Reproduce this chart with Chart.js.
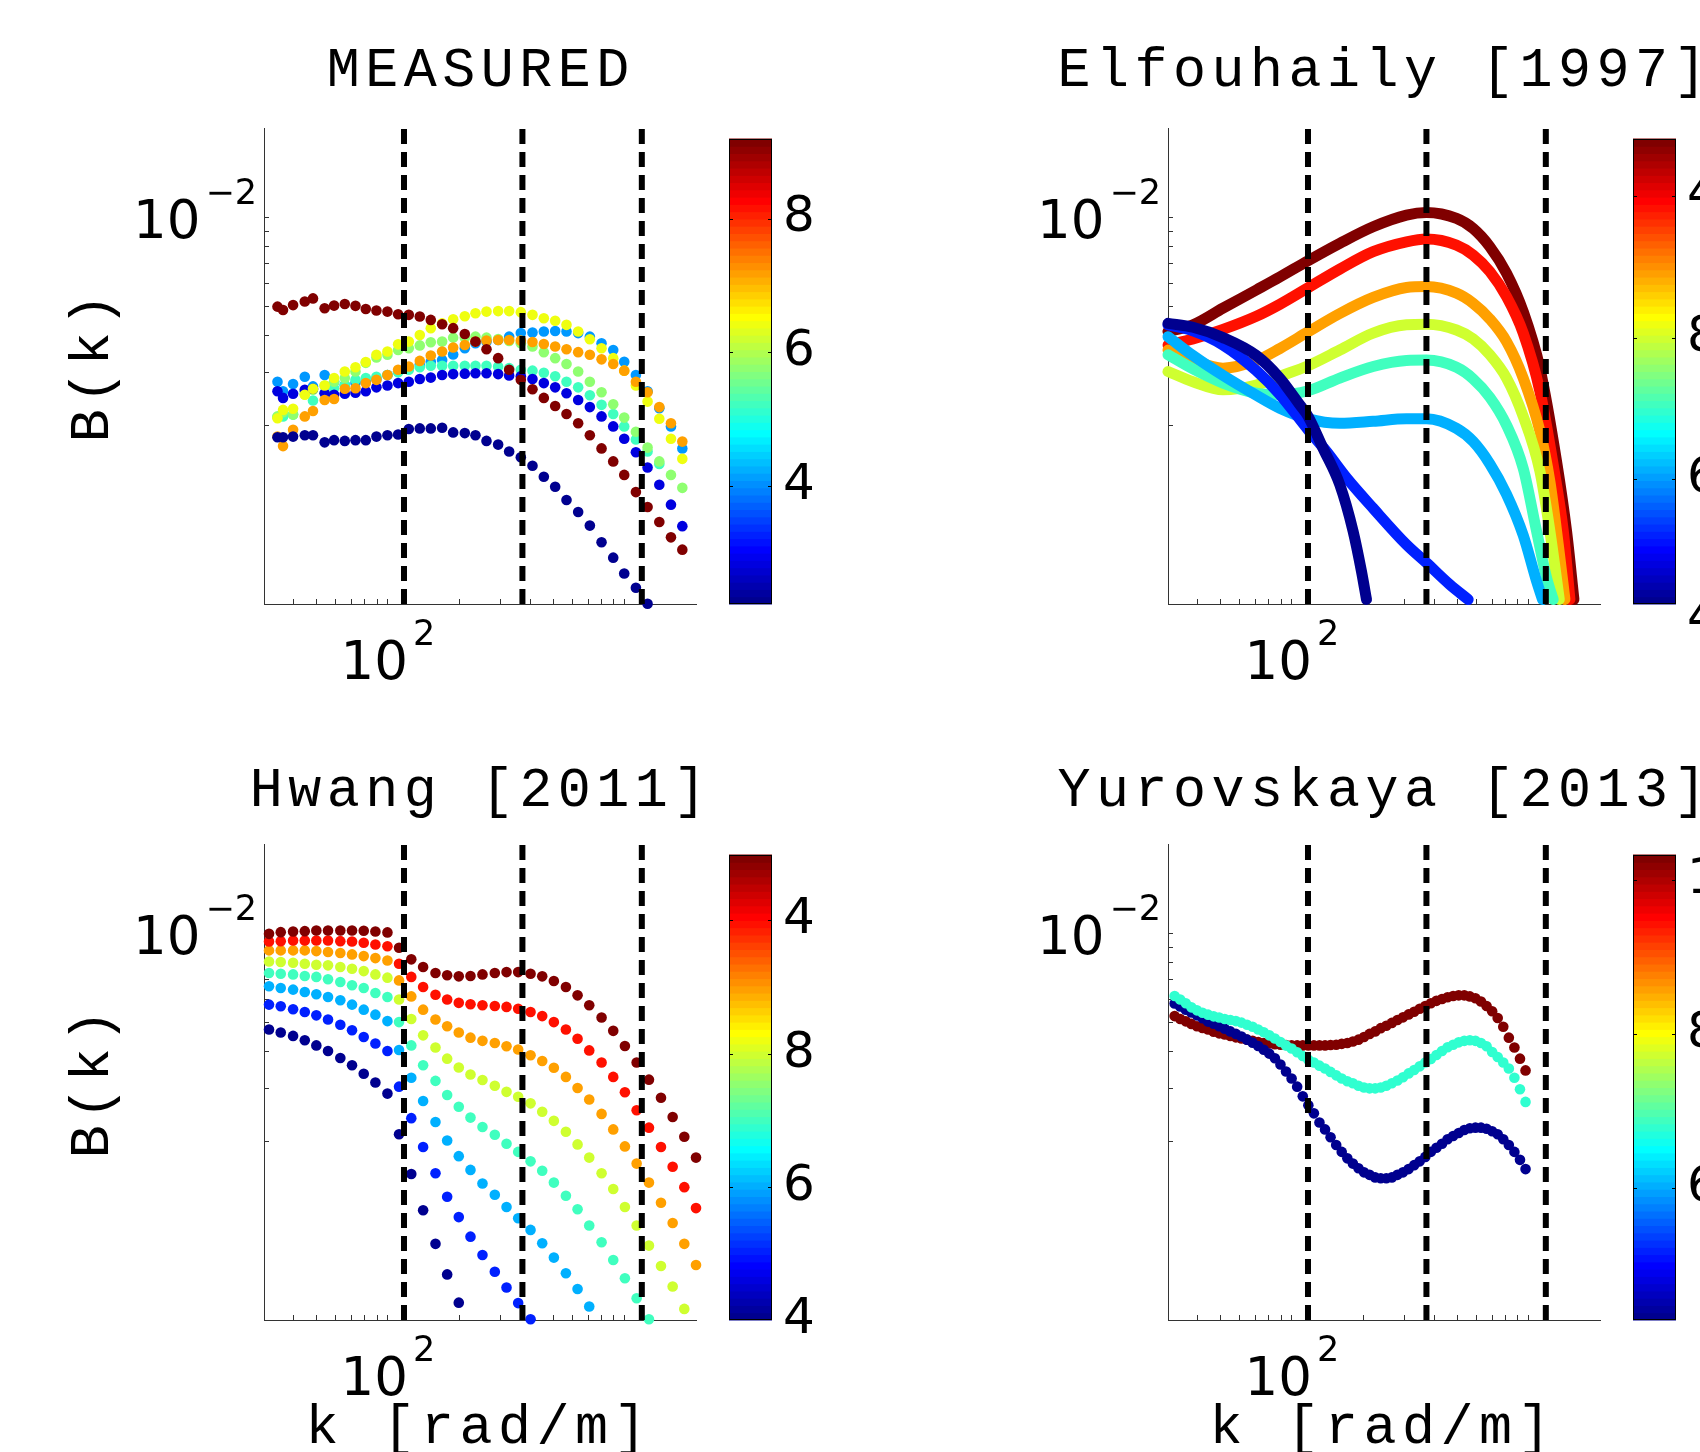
<!DOCTYPE html>
<html>
<head>
<meta charset="utf-8">
<script src="https://cdn.jsdelivr.net/npm/chart.js@4.4.1/dist/chart.umd.min.js"></script>
<style>
  html, body { margin: 0; padding: 0; background: #fff; }
  body { width: 1700px; height: 1452px; overflow: hidden; position: relative; }
  canvas { position: absolute; }
</style>
</head>
<body>
<canvas id="p1"></canvas>
<canvas id="p2"></canvas>
<canvas id="p3"></canvas>
<canvas id="p4"></canvas>
<canvas id="c1"></canvas>
<canvas id="c2"></canvas>
<canvas id="c3"></canvas>
<canvas id="c4"></canvas>
<script>
// ─── Axes (shared by the four panels) ────────────────────────────────────────
const K_MIN = 30, K_MAX = 2000;          // k [rad/m]
const B_MIN = 5e-4, B_MAX = 2e-2;        // B(k)
const K_TICKS = [40, 50, 60, 70, 80, 90, 100, 200, 300, 400, 500, 600, 700, 800, 900, 1000];
const B_TICKS = [2e-3, 3e-3, 4e-3, 5e-3, 6e-3, 7e-3, 8e-3, 9e-3, 1e-2];
const K_LABEL = 100, K_LABEL_EXP = "2";
const B_LABEL = 1e-2, B_LABEL_EXP = "\u22122";
const K_DASHED = [117, 370, 1181];       // vertical dashed markers

// ─── MEASURED ────────────────────────────────────────────────────────────────
const K_MEAS = [34.2, 36.1, 39.8, 44.6, 48.3, 54.1, 59.3, 65.8, 73.0, 80.7, 89.5, 99.6, 110.5, 122.6, 136.4, 151.8, 169.5, 188.7, 211.3, 234.4, 260.9, 292.2, 325.2, 364.2, 408.0, 455.6, 508.7, 567.9, 636.1, 712.6, 798.4, 894.4, 995.4, 1115, 1249, 1400, 1568, 1751];
const MEAS_NAVY = [1.82e-3, 1.82e-3, 1.83e-3, 1.85e-3, 1.85e-3, 1.75e-3, 1.78e-3, 1.77e-3, 1.78e-3, 1.78e-3, 1.83e-3, 1.85e-3, 1.86e-3, 1.94e-3, 1.95e-3, 1.95e-3, 1.96e-3, 1.89e-3, 1.88e-3, 1.85e-3, 1.77e-3, 1.72e-3, 1.63e-3, 1.56e-3, 1.46e-3, 1.34e-3, 1.24e-3, 1.12e-3, 1.02e-3, 9.18e-4, 8.07e-4, 7.16e-4, 6.33e-4, 5.67e-4, 5.01e-4];
const MEAS_BLUE = [2.60e-3, 2.47e-3, 2.55e-3, 2.63e-3, 2.65e-3, 2.56e-3, 2.53e-3, 2.55e-3, 2.57e-3, 2.60e-3, 2.68e-3, 2.72e-3, 2.77e-3, 2.80e-3, 2.86e-3, 2.89e-3, 2.95e-3, 2.97e-3, 2.98e-3, 2.99e-3, 2.99e-3, 2.97e-3, 2.94e-3, 2.92e-3, 2.86e-3, 2.77e-3, 2.68e-3, 2.56e-3, 2.43e-3, 2.30e-3, 2.14e-3, 1.98e-3, 1.80e-3, 1.62e-3, 1.44e-3, 1.26e-3, 1.08e-3, 9.14e-4];
const MEAS_LBLUE = [2.80e-3, 2.60e-3, 2.75e-3, 2.91e-3, 2.70e-3, 2.95e-3, 2.80e-3, 2.73e-3, 2.77e-3, 2.80e-3, 2.86e-3, 2.95e-3, 3.03e-3, 3.11e-3, 3.19e-3, 3.27e-3, 3.31e-3, 3.46e-3, 3.63e-3, 3.77e-3, 3.82e-3, 3.87e-3, 3.97e-3, 4.08e-3, 4.10e-3, 4.13e-3, 4.15e-3, 4.13e-3, 4.08e-3, 3.97e-3, 3.77e-3, 3.58e-3, 3.27e-3, 2.95e-3, 2.60e-3, 2.28e-3, 1.98e-3, 1.67e-3];
const MEAS_TEAL = [2.13e-3, 2.14e-3, 2.17e-3, 2.60e-3, 2.42e-3, 2.56e-3, 2.66e-3, 2.73e-3, 2.84e-3, 2.88e-3, 2.91e-3, 2.95e-3, 3.01e-3, 3.07e-3, 3.13e-3, 3.17e-3, 3.17e-3, 3.17e-3, 3.17e-3, 3.17e-3, 3.17e-3, 3.15e-3, 3.11e-3, 3.07e-3, 3.05e-3, 3.00e-3, 2.92e-3, 2.80e-3, 2.68e-3, 2.52e-3, 2.34e-3, 2.18e-3, 1.98e-3, 1.79e-3, 1.63e-3, 1.48e-3];
const MEAS_GREEN = [2.14e-3, 2.21e-3, 2.17e-3, 2.54e-3, 2.63e-3, 2.72e-3, 2.80e-3, 2.88e-3, 3.03e-3, 3.24e-3, 3.38e-3, 3.45e-3, 3.58e-3, 3.63e-3, 3.71e-3, 3.80e-3, 3.82e-3, 3.94e-3, 3.94e-3, 3.97e-3, 3.94e-3, 3.90e-3, 3.84e-3, 3.77e-3, 3.68e-3, 3.52e-3, 3.36e-3, 3.21e-3, 3.03e-3, 2.80e-3, 2.58e-3, 2.35e-3, 2.12e-3, 1.90e-3, 1.68e-3, 1.51e-3, 1.36e-3, 1.23e-3];
const MEAS_YELLOW = [2.11e-3, 2.25e-3, 2.27e-3, 2.53e-3, 2.65e-3, 2.72e-3, 2.88e-3, 3.03e-3, 3.13e-3, 3.26e-3, 3.45e-3, 3.54e-3, 3.74e-3, 3.82e-3, 4.02e-3, 4.24e-3, 4.40e-3, 4.54e-3, 4.65e-3, 4.76e-3, 4.82e-3, 4.84e-3, 4.84e-3, 4.80e-3, 4.70e-3, 4.58e-3, 4.49e-3, 4.35e-3, 4.13e-3, 3.89e-3, 3.63e-3, 3.36e-3, 3.05e-3, 2.72e-3, 2.40e-3, 2.10e-3, 1.80e-3, 1.54e-3];
const MEAS_ORANGE = [1.83e-3, 1.70e-3, 1.93e-3, 2.14e-3, 2.23e-3, 2.43e-3, 2.45e-3, 2.65e-3, 2.66e-3, 2.77e-3, 2.84e-3, 2.95e-3, 3.07e-3, 3.15e-3, 3.29e-3, 3.43e-3, 3.54e-3, 3.65e-3, 3.72e-3, 3.82e-3, 3.85e-3, 3.87e-3, 3.87e-3, 3.85e-3, 3.81e-3, 3.75e-3, 3.68e-3, 3.60e-3, 3.52e-3, 3.45e-3, 3.33e-3, 3.21e-3, 3.05e-3, 2.80e-3, 2.58e-3, 2.30e-3, 2.03e-3, 1.76e-3];
const MEAS_MAROON = [5.01e-3, 4.88e-3, 5.07e-3, 5.21e-3, 5.34e-3, 4.95e-3, 5.05e-3, 5.11e-3, 5.04e-3, 4.92e-3, 4.86e-3, 4.82e-3, 4.72e-3, 4.70e-3, 4.64e-3, 4.52e-3, 4.37e-3, 4.24e-3, 4.05e-3, 3.82e-3, 3.60e-3, 3.36e-3, 3.07e-3, 2.84e-3, 2.64e-3, 2.47e-3, 2.32e-3, 2.18e-3, 2.03e-3, 1.85e-3, 1.67e-3, 1.51e-3, 1.36e-3, 1.19e-3, 1.06e-3, 9.44e-4, 8.38e-4, 7.62e-4];

// ─── Elfouhaily [1997] ───────────────────────────────────────────────────────
const ELF_MAROON_K = [30.0, 38.25, 51.2, 70.8, 88.9, 117.1, 159.4, 220.4, 304.8, 370.2, 495.7, 583.0, 685.6, 806.2, 948.2, 1115, 1311, 1445, 1552];
const ELF_MAROON_B = [4.13e-3, 4.35e-3, 4.95e-3, 5.70e-3, 6.30e-3, 7.15e-3, 8.18e-3, 9.30e-3, 1.018e-2, 1.039e-2, 9.92e-3, 9.18e-3, 7.97e-3, 6.49e-3, 4.82e-3, 3.11e-3, 1.51e-3, 8.79e-4, 5.18e-4];
const ELF_RED_K = [30.0, 38.25, 51.2, 70.8, 88.9, 117.1, 159.4, 220.4, 304.8, 370.2, 495.7, 583.0, 685.6, 806.2, 948.2, 1115, 1269, 1400, 1493];
const ELF_RED_B = [3.72e-3, 3.90e-3, 4.20e-3, 4.65e-3, 5.10e-3, 5.80e-3, 6.70e-3, 7.67e-3, 8.28e-3, 8.46e-3, 8.07e-3, 7.47e-3, 6.57e-3, 5.41e-3, 4.08e-3, 2.60e-3, 1.47e-3, 8.79e-4, 5.18e-4];
const ELF_ORANGE_K = [30.0, 38.25, 51.2, 70.8, 88.9, 117.1, 159.4, 220.4, 304.8, 370.2, 495.7, 583.0, 685.6, 806.2, 948.2, 1115, 1229, 1333, 1422];
const ELF_ORANGE_B = [3.58e-3, 3.31e-3, 3.11e-3, 3.30e-3, 3.62e-3, 4.12e-3, 4.75e-3, 5.38e-3, 5.81e-3, 5.85e-3, 5.56e-3, 5.14e-3, 4.55e-3, 3.82e-3, 2.88e-3, 1.91e-3, 1.29e-3, 7.92e-4, 5.18e-4];
const ELF_YELLOW_K = [30.0, 38.25, 51.2, 70.8, 88.9, 117.1, 159.4, 220.4, 304.8, 370.2, 495.7, 583.0, 685.6, 806.2, 948.2, 1115, 1229, 1346];
const ELF_YELLOW_B = [3.03e-3, 2.80e-3, 2.63e-3, 2.73e-3, 2.92e-3, 3.17e-3, 3.58e-3, 4.08e-3, 4.35e-3, 4.37e-3, 4.18e-3, 3.90e-3, 3.45e-3, 2.88e-3, 2.14e-3, 1.40e-3, 8.79e-4, 5.18e-4];
const ELF_TEAL_K = [30.0, 38.25, 51.2, 70.8, 88.9, 117.1, 159.4, 220.4, 304.8, 370.2, 495.7, 583.0, 685.6, 806.2, 948.2, 1079.5, 1190, 1269];
const ELF_TEAL_B = [3.45e-3, 3.09e-3, 2.77e-3, 2.56e-3, 2.53e-3, 2.61e-3, 2.88e-3, 3.15e-3, 3.30e-3, 3.31e-3, 3.13e-3, 2.86e-3, 2.48e-3, 2.00e-3, 1.43e-3, 8.79e-4, 6.12e-4, 5.18e-4];
const ELF_LBLUE_K = [30.0, 38.25, 51.2, 70.8, 88.9, 117.1, 159.4, 220.4, 304.8, 370.2, 495.7, 583.0, 685.6, 806.2, 948.2, 1079.5, 1144];
const ELF_LBLUE_B = [3.97e-3, 3.43e-3, 2.94e-3, 2.52e-3, 2.28e-3, 2.10e-3, 2.03e-3, 2.06e-3, 2.10e-3, 2.10e-3, 1.95e-3, 1.76e-3, 1.48e-3, 1.17e-3, 8.52e-4, 5.97e-4, 5.18e-4];
const ELF_BLUE_K = [30.0, 38.25, 51.2, 70.8, 88.9, 117.1, 140.0, 170.1, 220.4, 304.8, 370.2, 464.6, 555.2];
const ELF_BLUE_B = [4.35e-3, 4.15e-3, 3.72e-3, 3.05e-3, 2.54e-3, 1.93e-3, 1.63e-3, 1.33e-3, 1.05e-3, 7.92e-4, 6.88e-4, 5.81e-4, 5.18e-4];
const ELF_NAVY_K = [30.0, 38.25, 51.2, 70.8, 88.9, 108.0, 117.1, 135.5, 159.4, 181.4, 196.7, 206.6];
const ELF_NAVY_B = [4.40e-3, 4.27e-3, 3.94e-3, 3.43e-3, 2.88e-3, 2.34e-3, 2.14e-3, 1.67e-3, 1.26e-3, 8.79e-4, 6.45e-4, 5.18e-4];

// ─── Hwang [2011] ────────────────────────────────────────────────────────────
const K_HWANG = [31.5, 35.3, 39.8, 44.6, 49.9, 55.9, 63.0, 70.6, 79.1, 88.6, 99.6, 111.5, 125.6, 140.9, 158.9, 178.0, 199.3, 223.3, 250.9, 282.9, 317.0, 355.0, 400.4, 448.5, 502.3, 564.6, 632.4, 708.4, 798.7, 894.6, 1002, 1123, 1266, 1423, 1594, 1785, 2000];
const HW_MAROON = [9.97e-3, 1.010e-2, 1.015e-2, 1.018e-2, 1.023e-2, 1.023e-2, 1.023e-2, 1.023e-2, 1.021e-2, 1.015e-2, 1.008e-2, 8.95e-3, 8.18e-3, 7.71e-3, 7.36e-3, 7.23e-3, 7.17e-3, 7.19e-3, 7.28e-3, 7.36e-3, 7.41e-3, 7.41e-3, 7.32e-3, 7.17e-3, 6.92e-3, 6.60e-3, 6.19e-3, 5.73e-3, 5.21e-3, 4.70e-3, 4.18e-3, 3.68e-3, 3.22e-3, 2.80e-3, 2.41e-3, 2.07e-3, 1.76e-3];
const HW_RED = [9.40e-3, 9.42e-3, 9.47e-3, 9.47e-3, 9.47e-3, 9.47e-3, 9.42e-3, 9.40e-3, 9.30e-3, 9.18e-3, 9.06e-3, 7.91e-3, 7.14e-3, 6.60e-3, 6.22e-3, 5.99e-3, 5.84e-3, 5.78e-3, 5.73e-3, 5.70e-3, 5.66e-3, 5.58e-3, 5.44e-3, 5.27e-3, 5.03e-3, 4.75e-3, 4.42e-3, 4.04e-3, 3.68e-3, 3.29e-3, 2.92e-3, 2.54e-3, 2.22e-3, 1.91e-3, 1.64e-3, 1.40e-3, 1.19e-3];
const HW_ORANGE = [8.77e-3, 8.77e-3, 8.77e-3, 8.77e-3, 8.72e-3, 8.66e-3, 8.59e-3, 8.50e-3, 8.39e-3, 8.26e-3, 8.11e-3, 6.95e-3, 6.14e-3, 5.54e-3, 5.13e-3, 4.87e-3, 4.64e-3, 4.46e-3, 4.35e-3, 4.28e-3, 4.17e-3, 4.07e-3, 3.89e-3, 3.72e-3, 3.53e-3, 3.29e-3, 3.02e-3, 2.76e-3, 2.47e-3, 2.19e-3, 1.92e-3, 1.68e-3, 1.45e-3, 1.24e-3, 1.06e-3, 9.02e-4, 7.66e-4];
const HW_YGREEN = [8.05e-3, 8.01e-3, 7.97e-3, 7.91e-3, 7.85e-3, 7.81e-3, 7.71e-3, 7.61e-3, 7.47e-3, 7.28e-3, 7.10e-3, 5.99e-3, 5.15e-3, 4.54e-3, 4.13e-3, 3.79e-3, 3.54e-3, 3.35e-3, 3.21e-3, 3.07e-3, 2.93e-3, 2.82e-3, 2.68e-3, 2.51e-3, 2.34e-3, 2.15e-3, 1.95e-3, 1.76e-3, 1.56e-3, 1.38e-3, 1.20e-3, 1.04e-3, 8.90e-4, 7.60e-4, 6.48e-4, 5.45e-4];
const HW_TEAL = [7.36e-3, 7.32e-3, 7.28e-3, 7.19e-3, 7.14e-3, 7.01e-3, 6.86e-3, 6.69e-3, 6.55e-3, 6.30e-3, 6.11e-3, 5.03e-3, 4.20e-3, 3.60e-3, 3.19e-3, 2.86e-3, 2.61e-3, 2.40e-3, 2.23e-3, 2.10e-3, 1.96e-3, 1.84e-3, 1.71e-3, 1.59e-3, 1.45e-3, 1.31e-3, 1.18e-3, 1.04e-3, 9.13e-4, 7.96e-4, 6.91e-4, 5.92e-4, 5.03e-4];
const HW_LBLUE = [6.64e-3, 6.55e-3, 6.47e-3, 6.35e-3, 6.24e-3, 6.11e-3, 5.96e-3, 5.76e-3, 5.54e-3, 5.33e-3, 5.07e-3, 4.05e-3, 3.27e-3, 2.73e-3, 2.32e-3, 2.01e-3, 1.78e-3, 1.60e-3, 1.44e-3, 1.32e-3, 1.20e-3, 1.10e-3, 1.005e-3, 9.06e-4, 8.11e-4, 7.18e-4, 6.36e-4, 5.55e-4];
const HW_BLUE = [5.76e-3, 5.69e-3, 5.56e-3, 5.44e-3, 5.30e-3, 5.13e-3, 4.93e-3, 4.72e-3, 4.48e-3, 4.26e-3, 4.02e-3, 3.05e-3, 2.39e-3, 1.91e-3, 1.56e-3, 1.30e-3, 1.11e-3, 9.54e-4, 8.27e-4, 7.27e-4, 6.43e-4, 5.70e-4, 5.03e-4];
const HW_NAVY = [4.75e-3, 4.64e-3, 4.52e-3, 4.37e-3, 4.20e-3, 4.02e-3, 3.81e-3, 3.60e-3, 3.37e-3, 3.15e-3, 2.89e-3, 2.11e-3, 1.55e-3, 1.17e-3, 9.02e-4, 7.12e-4, 5.72e-4];

// ─── Yurovskaya [2013] ───────────────────────────────────────────────────────
const K_YUR = [32.0, 33.78, 35.66, 37.64, 39.74, 41.95, 44.28, 46.74, 49.34, 52.09, 54.99, 58.05, 61.28, 64.69, 68.29, 72.09, 76.10, 80.33, 84.80, 89.52, 94.50, 99.76, 105.3, 111.2, 117.4, 123.9, 130.8, 138.1, 145.7, 153.9, 162.4, 171.5, 181.0, 191.1, 201.7, 212.9, 224.8, 237.3, 250.5, 264.4, 279.1, 294.7, 311.1, 328.4, 346.6, 365.9, 386.3, 407.8, 430.5, 454.4, 479.7, 506.4, 534.6, 564.3, 595.7, 628.9, 663.9, 700.8, 739.8, 781.0, 824.4, 870.3, 918.7, 969.8];
const YUR_MAROON = [5.27e-3, 5.15e-3, 5.06e-3, 4.96e-3, 4.87e-3, 4.81e-3, 4.75e-3, 4.67e-3, 4.61e-3, 4.57e-3, 4.52e-3, 4.47e-3, 4.43e-3, 4.39e-3, 4.35e-3, 4.31e-3, 4.28e-3, 4.26e-3, 4.24e-3, 4.22e-3, 4.21e-3, 4.20e-3, 4.20e-3, 4.20e-3, 4.20e-3, 4.20e-3, 4.20e-3, 4.20e-3, 4.21e-3, 4.22e-3, 4.25e-3, 4.28e-3, 4.33e-3, 4.39e-3, 4.48e-3, 4.59e-3, 4.68e-3, 4.80e-3, 4.89e-3, 5.00e-3, 5.11e-3, 5.22e-3, 5.34e-3, 5.45e-3, 5.58e-3, 5.70e-3, 5.82e-3, 5.93e-3, 6.02e-3, 6.10e-3, 6.16e-3, 6.19e-3, 6.19e-3, 6.14e-3, 6.05e-3, 5.90e-3, 5.70e-3, 5.47e-3, 5.19e-3, 4.85e-3, 4.46e-3, 4.13e-3, 3.79e-3, 3.46e-3];
const YUR_TEAL = [6.16e-3, 5.99e-3, 5.82e-3, 5.64e-3, 5.51e-3, 5.41e-3, 5.33e-3, 5.26e-3, 5.21e-3, 5.15e-3, 5.11e-3, 5.07e-3, 5.01e-3, 4.93e-3, 4.85e-3, 4.75e-3, 4.65e-3, 4.54e-3, 4.43e-3, 4.31e-3, 4.20e-3, 4.10e-3, 3.98e-3, 3.87e-3, 3.76e-3, 3.68e-3, 3.59e-3, 3.51e-3, 3.42e-3, 3.33e-3, 3.25e-3, 3.18e-3, 3.13e-3, 3.07e-3, 3.03e-3, 3.01e-3, 3.01e-3, 3.03e-3, 3.07e-3, 3.13e-3, 3.20e-3, 3.28e-3, 3.38e-3, 3.47e-3, 3.57e-3, 3.68e-3, 3.78e-3, 3.90e-3, 4.02e-3, 4.14e-3, 4.22e-3, 4.30e-3, 4.35e-3, 4.37e-3, 4.35e-3, 4.28e-3, 4.17e-3, 3.99e-3, 3.84e-3, 3.68e-3, 3.51e-3, 3.27e-3, 2.99e-3, 2.71e-3];
const YUR_NAVY = [5.81e-3, 5.68e-3, 5.54e-3, 5.42e-3, 5.30e-3, 5.18e-3, 5.05e-3, 4.97e-3, 4.87e-3, 4.78e-3, 4.68e-3, 4.59e-3, 4.50e-3, 4.39e-3, 4.29e-3, 4.18e-3, 4.06e-3, 3.94e-3, 3.80e-3, 3.62e-3, 3.43e-3, 3.25e-3, 3.05e-3, 2.83e-3, 2.64e-3, 2.48e-3, 2.31e-3, 2.19e-3, 2.06e-3, 1.94e-3, 1.84e-3, 1.75e-3, 1.68e-3, 1.62e-3, 1.57e-3, 1.54e-3, 1.51e-3, 1.50e-3, 1.50e-3, 1.51e-3, 1.54e-3, 1.57e-3, 1.61e-3, 1.66e-3, 1.71e-3, 1.77e-3, 1.84e-3, 1.90e-3, 1.96e-3, 2.03e-3, 2.08e-3, 2.13e-3, 2.18e-3, 2.21e-3, 2.22e-3, 2.22e-3, 2.20e-3, 2.16e-3, 2.11e-3, 2.03e-3, 1.94e-3, 1.84e-3, 1.73e-3, 1.61e-3];

// ─── Colorbars: range, tick values, tick labels ──────────────────────────────
const CB1_RANGE = [2.23, 9.19],  CB1_TICKS = [4, 6, 8],     CB1_LABELS = ["4", "6", "8"];
const CB2_RANGE = [4.23, 10.81], CB2_TICKS = [4, 6, 8, 10], CB2_LABELS = ["4", "6", "8", "4"];
const CB3_RANGE = [4.0, 10.98],  CB3_TICKS = [4, 6, 8, 10], CB3_LABELS = ["4", "6", "8", "4"];
const CB4_RANGE = [4.28, 10.33], CB4_TICKS = [6, 8, 10],    CB4_LABELS = ["6", "8", "10"];

// ─── Styles / layout ─────────────────────────────────────────────────────────
const C = {
    navy: "#00008f", blue: "#0000df", blue2: "#0020ff", lblue: "#0098ff", lblue2: "#00b0ff",
    teal: "#40ffbf", teal2: "#30ffd0", green: "#8fff70", yellow: "#efff10", ygreen: "#cfff30",
    orange: "#ffa000", red: "#ff1000", maroon: "#800000",
};
const AXIS_COLOR = "#333";
const MONO = '55px "Liberation Mono", "Courier New", monospace';
const MONO_SPACING = 5.5;
const TICK_FONT = '53px "DejaVu Sans", sans-serif';
const SUP_FONT = '35px "DejaVu Sans", sans-serif';
const PANEL_W = 820;
const AX_L = 264, AX_T = 128, AX_R = 696, AX_B = 604;
const CB_W = 43, CB_CANVAS_W = 160, CB_PAD_T = 30, CB_PAD_B = 70;

// MATLAB jet(64), row 1..64
function jet64(row) {
    const u = (j) => (j < 1 || j > 47) ? 0 : (j <= 16 ? j / 16 : (j <= 31 ? 1 : (48 - j) / 16));
    const c = [u(row - 24), u(row - 8), u(row + 8)].map((v) => Math.round(v * 255));
    return `rgb(${c[0]},${c[1]},${c[2]})`;
}

function dots(K, B, color) {
    return {
        data: B.map((b, i) => ({ x: K[i], y: b })),
        showLine: false, pointRadius: 5.3, pointHoverRadius: 5.3,
        pointBackgroundColor: color, backgroundColor: color, pointBorderWidth: 0, clip: false,
    };
}

function curve(K, B, color) {
    return {
        data: B.map((b, i) => ({ x: K[i], y: b })),
        showLine: true, borderColor: color, borderWidth: 11, pointRadius: 0,
        cubicInterpolationMode: "monotone", borderCapStyle: "round", borderJoinStyle: "round",
        fill: false, clip: false,
    };
}

function dashedMarkers() {
    return K_DASHED.map((k) => ({
        data: [{ x: k, y: B_MIN }, { x: k, y: B_MAX }],
        showLine: true, borderColor: "#000", borderWidth: 6, borderDash: [15, 8],
        borderCapStyle: "butt", pointRadius: 0, clip: false,
    }));
}

// "10" with a raised exponent
function powWidth(ctx, exp) {
    ctx.font = TICK_FONT;
    const w = ctx.measureText("10").width;
    ctx.font = SUP_FONT;
    return w + 5 + ctx.measureText(exp).width;
}
function drawPow(ctx, exp, x, base) {
    ctx.font = TICK_FONT;
    ctx.fillText("10", x, base);
    const w = ctx.measureText("10").width;
    ctx.font = SUP_FONT;
    ctx.fillText(exp, x + w + 5, base - 34);
}

// monospaced text with extra tracking, centred on x
function monoText(ctx, text, x, y) {
    ctx.font = MONO;
    ctx.letterSpacing = MONO_SPACING + "px";
    ctx.textAlign = "center";
    ctx.fillText(text, x + MONO_SPACING / 2, y);
    ctx.letterSpacing = "0px";
}

const panelText = {
    id: "panelText",
    afterDraw(chart, args, o) {
        const { ctx, chartArea: a, scales } = chart;
        const cx = (a.left + a.right) / 2;
        ctx.save();
        ctx.fillStyle = "#000";
        ctx.textBaseline = "alphabetic";
        monoText(ctx, o.title, cx - 2, o.titleY);
        if (o.xTitle) monoText(ctx, o.xTitle, cx - 4, a.bottom + 123);
        if (o.yTitle) {
            ctx.save();
            ctx.translate(93, (a.top + a.bottom) / 2 + 2);
            ctx.rotate(-Math.PI / 2);
            ctx.textBaseline = "middle";
            monoText(ctx, o.yTitle, 0, 0);
            ctx.restore();
        }
        ctx.textAlign = "left";
        ctx.textBaseline = "alphabetic";
        const px = scales.x.getPixelForValue(K_LABEL);
        drawPow(ctx, K_LABEL_EXP, px - powWidth(ctx, K_LABEL_EXP) / 2, a.bottom + 75);
        const py = scales.y.getPixelForValue(B_LABEL);
        drawPow(ctx, B_LABEL_EXP, a.left - 7 - powWidth(ctx, B_LABEL_EXP), py + 21);
        ctx.restore();
    },
};

function makePanel(id, left, top, height, datasets, text) {
    const cv = document.getElementById(id);
    cv.width = PANEL_W; cv.height = height;
    cv.style.left = left + "px"; cv.style.top = top + "px";
    const axisCommon = {
        type: "logarithmic",
        ticks: { display: false },
        grid: { drawOnChartArea: false, drawTicks: true, tickLength: -5, color: AXIS_COLOR, lineWidth: 1 },
        border: { display: true, color: AXIS_COLOR, width: 1 },
    };
    return new Chart(cv, {
        type: "scatter",
        data: { datasets },
        options: {
            responsive: false, animation: false, events: [],
            layout: { padding: { left: 0, top: AX_T, right: PANEL_W - AX_R, bottom: 0 } },
            scales: {
                x: { ...axisCommon, position: "bottom", min: K_MIN, max: K_MAX,
                     afterBuildTicks: (s) => { s.ticks = K_TICKS.map((v) => ({ value: v })); },
                     afterFit: (s) => { s.height = height - AX_B; } },
                y: { ...axisCommon, position: "left", min: B_MIN, max: B_MAX,
                     afterBuildTicks: (s) => { s.ticks = B_TICKS.map((v) => ({ value: v })); },
                     afterFit: (s) => { s.width = AX_L; } },
            },
            plugins: { legend: { display: false }, tooltip: { enabled: false }, panelText: text },
        },
        plugins: [panelText],
    });
}

const colorbarPaint = {
    id: "colorbarPaint",
    afterDraw(chart) {
        const { ctx, chartArea: a, scales: { y } } = chart;
        const [lo, hi] = [y.min, y.max];
        ctx.save();
        for (let r = 1; r <= 64; r++) {
            const y0 = y.getPixelForValue(lo + (r - 1) * (hi - lo) / 64);
            const y1 = y.getPixelForValue(lo + r * (hi - lo) / 64);
            ctx.fillStyle = jet64(r);
            ctx.fillRect(a.left, y1 - 0.5, a.right - a.left, y0 - y1 + 1);
        }
        ctx.strokeStyle = "#000";
        ctx.lineWidth = 1;
        ctx.strokeRect(a.left + 0.5, a.top + 0.5, a.right - a.left - 1, a.bottom - a.top - 1);
        ctx.beginPath();
        y.ticks.forEach((t) => {
            if (t.value <= lo || t.value >= hi) return;
            const p = Math.round(y.getPixelForValue(t.value)) + 0.5;
            ctx.moveTo(a.left, p); ctx.lineTo(a.left + 4, p);
            ctx.moveTo(a.right - 4, p); ctx.lineTo(a.right, p);
        });
        ctx.stroke();
        ctx.restore();
    },
};

function makeColorbar(id, left, top, range, ticks, labels) {
    const cv = document.getElementById(id);
    cv.width = CB_CANVAS_W; cv.height = CB_PAD_T + (AX_B - AX_T) + CB_PAD_B;
    cv.style.left = left + "px"; cv.style.top = top + "px";
    return new Chart(cv, {
        type: "scatter",
        data: { datasets: [] },
        options: {
            responsive: false, animation: false, events: [],
            layout: { padding: { left: 10, top: CB_PAD_T, right: 0, bottom: CB_PAD_B } },
            scales: {
                x: { display: false, min: 0, max: 1 },
                y: {
                    type: "linear", position: "right", min: range[0], max: range[1],
                    afterBuildTicks: (s) => { s.ticks = ticks.map((v) => ({ value: v })); },
                    afterFit: (s) => { s.width = CB_CANVAS_W - 10 - CB_W; },
                    ticks: { autoSkip: false, padding: 11, color: "#000",
                             font: { family: '"DejaVu Sans", sans-serif', size: 50 },
                             callback: (v, i) => labels[i] },
                    grid: { display: false, drawTicks: false },
                    border: { display: false },
                },
            },
            plugins: { legend: { display: false }, tooltip: { enabled: false } },
        },
        plugins: [colorbarPaint],
    });
}

// ─── Panels ──────────────────────────────────────────────────────────────────
makePanel("p1", 0, 0, 700, [
    ...dashedMarkers(),
    dots(K_MEAS, MEAS_MAROON, C.maroon),
    dots(K_MEAS, MEAS_NAVY, C.navy),
    dots(K_MEAS, MEAS_ORANGE, C.orange),
    dots(K_MEAS, MEAS_YELLOW, C.yellow),
    dots(K_MEAS, MEAS_BLUE, C.blue),
    dots(K_MEAS, MEAS_GREEN, C.green),
    dots(K_MEAS, MEAS_TEAL, C.teal),
    dots(K_MEAS, MEAS_LBLUE, C.lblue),
], { title: "MEASURED", titleY: 86, yTitle: "B(k)" });

makePanel("p2", 904, 0, 700, [
    ...dashedMarkers(),
    curve(ELF_NAVY_K, ELF_NAVY_B, C.navy),
    curve(ELF_BLUE_K, ELF_BLUE_B, C.blue2),
    curve(ELF_LBLUE_K, ELF_LBLUE_B, C.lblue2),
    curve(ELF_TEAL_K, ELF_TEAL_B, C.teal),
    curve(ELF_YELLOW_K, ELF_YELLOW_B, C.ygreen),
    curve(ELF_ORANGE_K, ELF_ORANGE_B, C.orange),
    curve(ELF_RED_K, ELF_RED_B, C.red),
    curve(ELF_MAROON_K, ELF_MAROON_B, C.maroon),
], { title: "Elfouhaily [1997]", titleY: 86 });

makePanel("p3", 0, 716, 736, [
    ...dashedMarkers(),
    dots(K_HWANG, HW_MAROON, C.maroon),
    dots(K_HWANG, HW_RED, C.red),
    dots(K_HWANG, HW_ORANGE, C.orange),
    dots(K_HWANG, HW_YGREEN, C.ygreen),
    dots(K_HWANG, HW_TEAL, C.teal),
    dots(K_HWANG, HW_LBLUE, C.lblue2),
    dots(K_HWANG, HW_BLUE, C.blue2),
    dots(K_HWANG, HW_NAVY, C.navy),
], { title: "Hwang [2011]", titleY: 90, yTitle: "B(k)", xTitle: "k [rad/m]" });

makePanel("p4", 904, 716, 736, [
    ...dashedMarkers(),
    dots(K_YUR, YUR_TEAL, C.teal2),
    dots(K_YUR, YUR_NAVY, C.navy),
    dots(K_YUR, YUR_MAROON, C.maroon),
], { title: "Yurovskaya [2013]", titleY: 90, xTitle: "k [rad/m]" });

makeColorbar("c1", 719, 98, CB1_RANGE, CB1_TICKS, CB1_LABELS);
makeColorbar("c2", 1623, 98, CB2_RANGE, CB2_TICKS, CB2_LABELS);
makeColorbar("c3", 719, 814, CB3_RANGE, CB3_TICKS, CB3_LABELS);
makeColorbar("c4", 1623, 814, CB4_RANGE, CB4_TICKS, CB4_LABELS);
</script>
</body>
</html>
